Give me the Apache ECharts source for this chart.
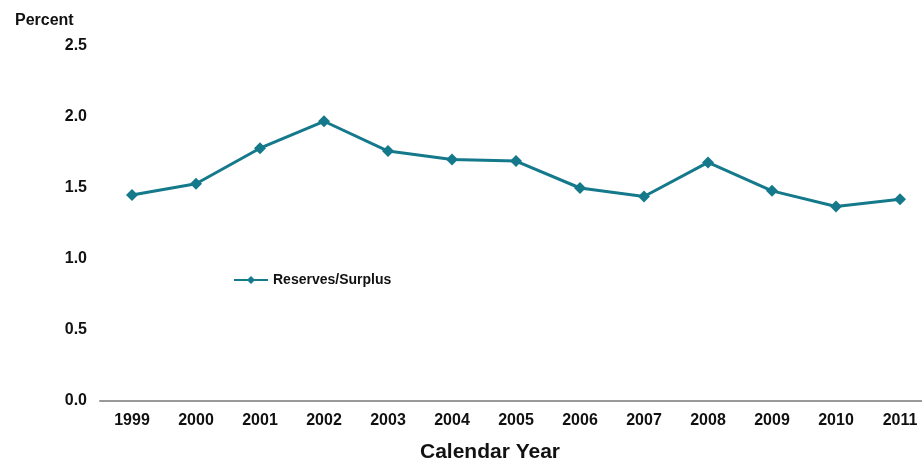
<!DOCTYPE html>
<html>
<head>
<meta charset="utf-8">
<script src="https://cdn.jsdelivr.net/npm/echarts@6/dist/echarts.min.js"></script>
<style>
  html, body { margin: 0; padding: 0; background: #fff; overflow: hidden; }
  /* a little wider than the window: the last band runs off the edge like the original */
  #chart { width: 932px; height: 462px; }
</style>
</head>
<body>
<div id="chart"></div>
<script>
// categories and values
var years = ["1999", "2000", "2001", "2002", "2003", "2004", "2005", "2006", "2007", "2008", "2009", "2010", "2011"];
var reserves = [1.45, 1.53, 1.78, 1.97, 1.76, 1.70, 1.69, 1.50, 1.44, 1.68, 1.48, 1.37, 1.42];

var chart = echarts.init(document.getElementById("chart"));
var font = "Arial, 'Liberation Sans', sans-serif";

chart.setOption({
  animation: false,
  textStyle: { fontFamily: font },
  grid: { left: 100, top: 46, bottom: 61, right: 0 },
  legend: {
    left: 228,
    top: 268,
    itemWidth: 34,
    itemHeight: 10,
    itemGap: 2,
    data: ["Reserves/Surplus"],
    textStyle: { color: "#111", fontSize: 14, fontWeight: "bold", fontFamily: font }
  },
  title: [
    {
      text: "Percent",
      left: 10,
      top: 8,
      textStyle: { color: "#111", fontSize: 16, fontWeight: "bold", fontFamily: font }
    },
    {
      text: "Calendar Year",
      left: 485,
      textAlign: "center",
      top: 437,
      textStyle: { color: "#111", fontSize: 21, fontWeight: "bold", fontFamily: font }
    }
  ],
  xAxis: {
    type: "category",
    data: years,
    boundaryGap: true,
    axisLine: { lineStyle: { color: "#999", width: 2 } },
    axisTick: { show: false },
    axisLabel: { color: "#111", fontSize: 16, fontWeight: "bold", margin: 12, interval: 0 }
  },
  yAxis: {
    type: "value",
    min: 0,
    max: 2.5,
    interval: 0.5,
    axisLine: { show: false },
    axisTick: { show: false },
    splitLine: { show: false },
    axisLabel: {
      color: "#111",
      fontSize: 16,
      fontWeight: "bold",
      margin: 13,
      formatter: function (v) { return v.toFixed(1); }
    }
  },
  series: [
    {
      name: "Reserves/Surplus",
      type: "line",
      data: reserves,
      symbol: "diamond",
      symbolSize: 12,
      itemStyle: { color: "#15798c" },
      lineStyle: { color: "#15798c", width: 3 }
    }
  ]
});
</script>
</body>
</html>
